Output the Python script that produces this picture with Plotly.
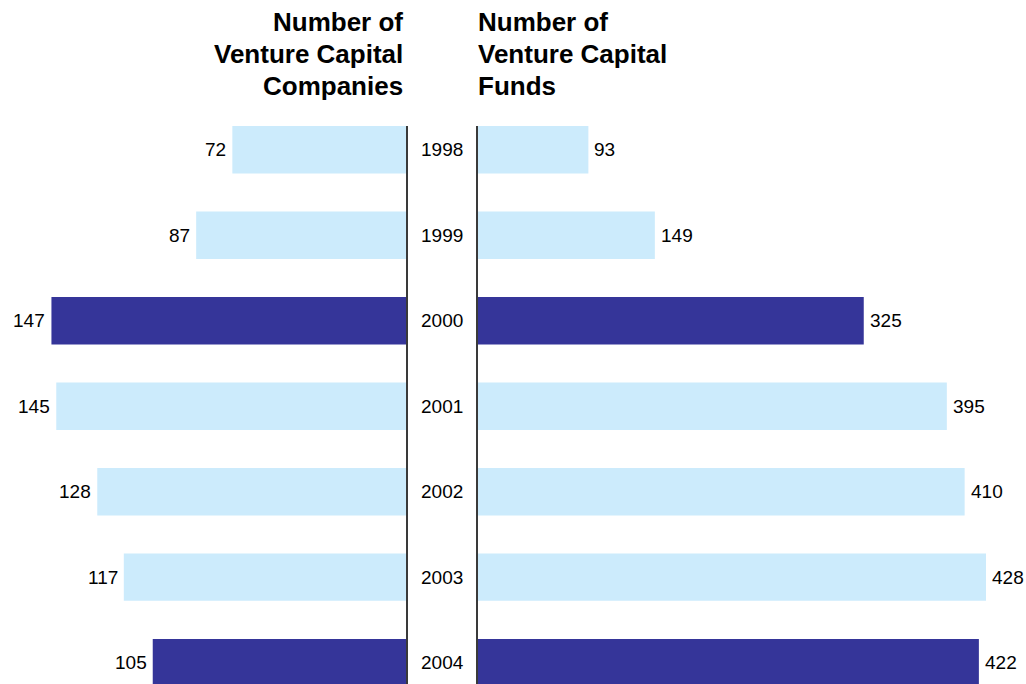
import plotly.graph_objects as go
from plotly.subplots import make_subplots

years = ["1998", "1999", "2000", "2001", "2002", "2003", "2004"]
companies = [72, 87, 147, 145, 128, 117, 105]
funds = [93, 149, 325, 395, 410, 428, 422]
highlight_years = ["2000", "2004"]
title_left = ["Number of", "Venture Capital", "Companies"]
title_right = ["Number of", "Venture Capital", "Funds"]

LIGHT = "#CCEBFC"
DARK = "#353599"
colors = [DARK if y in highlight_years else LIGHT for y in years]
FONT = "Liberation Sans, Arial, sans-serif"

W, H = 1026, 684
TOP = 126
left_end = 406 / W
right_start = 478 / W

fig = make_subplots(rows=1, cols=2, horizontal_spacing=0)
fig.add_trace(go.Bar(y=years, x=companies, orientation="h", marker_color=colors,
                     marker_line_width=0, width=0.555, hoverinfo="x+y"), row=1, col=1)
fig.add_trace(go.Bar(y=years, x=funds, orientation="h", marker_color=colors,
                     marker_line_width=0, width=0.555, hoverinfo="x+y"), row=1, col=2)

yr = [6.25, -0.278]
fig.update_layout(
    width=W, height=H,
    margin=dict(l=0, r=0, t=TOP, b=0),
    plot_bgcolor="white", paper_bgcolor="white",
    showlegend=False,
    font=dict(family=FONT, color="black"),
    xaxis=dict(domain=[0, left_end], range=[406 / 2.412, 0], visible=False),
    xaxis2=dict(domain=[right_start, 1], range=[0, 461.7], visible=False),
    yaxis=dict(type="category", range=yr, side="right", showline=True,
               linecolor="#3a3a3a", linewidth=1.5, showticklabels=False,
               ticks="", showgrid=False, zeroline=False),
    yaxis2=dict(type="category", range=yr, side="left", showline=True,
                linecolor="#3a3a3a", linewidth=1.5, showticklabels=False,
                ticks="", showgrid=False, zeroline=False),
)

annotations = []
for i, (yv, c, f) in enumerate(zip(years, companies, funds)):
    annotations.append(dict(x=c, y=i, xref="x", yref="y", text=str(c),
                            showarrow=False, xanchor="right", xshift=-4,
                            font=dict(size=19, family=FONT, color="black")))
    annotations.append(dict(x=f, y=i, xref="x2", yref="y2", text=str(f),
                            showarrow=False, xanchor="left", xshift=4,
                            font=dict(size=19, family=FONT, color="black")))
    annotations.append(dict(x=442 / W, y=i, xref="paper", yref="y", text=yv,
                            showarrow=False, xanchor="center",
                            font=dict(size=19, family=FONT, color="black")))

plot_h = H - TOP
line_centers = [22, 54, 86]
for i, (tl, tr) in enumerate(zip(title_left, title_right)):
    yp = 1 + (TOP - line_centers[i]) / plot_h
    annotations.append(dict(x=405 / W, y=yp, xref="paper", yref="paper",
                            text="<b>" + tl + "</b>", showarrow=False,
                            xanchor="right", yanchor="middle",
                            font=dict(size=26, family=FONT, color="black")))
    annotations.append(dict(x=476 / W, y=yp, xref="paper", yref="paper",
                            text="<b>" + tr + "</b>", showarrow=False,
                            xanchor="left", yanchor="middle",
                            font=dict(size=26, family=FONT, color="black")))

fig.update_layout(annotations=annotations)
fig.write_html(
    "out.html",
    config={"displayModeBar": False},
    post_script="document.body.style.margin='0';document.body.style.overflow='hidden';",
)
